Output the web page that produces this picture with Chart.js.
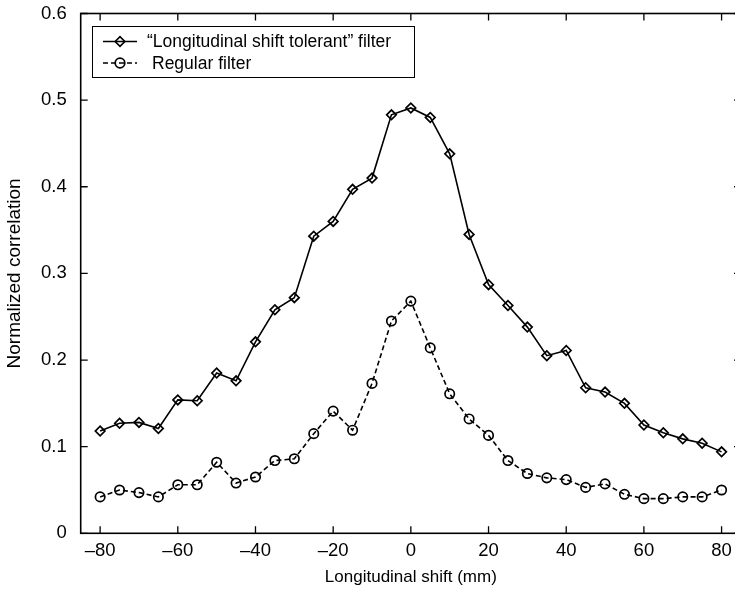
<!DOCTYPE html>
<html>
<head>
<meta charset="utf-8">
<script src="https://cdn.jsdelivr.net/npm/chart.js@4/dist/chart.umd.min.js"></script>
<style>
  html, body { margin: 0; padding: 0; background: #fff; overflow: hidden; }
  #wrap { position: absolute; left: 0; top: 0; width: 760px; height: 599px; }
</style>
</head>
<body>
<div id="wrap"><canvas id="chart" width="760" height="599"></canvas></div>
<script>
const shifts = [-80, -75, -70, -65, -60, -55, -50, -45, -40, -35, -30, -25, -20, -15, -10, -5, 0,
  5, 10, 15, 20, 25, 30, 35, 40, 45, 50, 55, 60, 65, 70, 75, 80];
const tolerant = [0.118, 0.127, 0.128, 0.121, 0.154, 0.153, 0.185, 0.176, 0.221, 0.258, 0.272,
  0.343, 0.360, 0.397, 0.410, 0.483, 0.491, 0.480, 0.438, 0.345, 0.287, 0.263, 0.238, 0.205,
  0.211, 0.168, 0.163, 0.150, 0.125, 0.116, 0.109, 0.104, 0.094];
const regular = [0.042, 0.050, 0.047, 0.042, 0.056, 0.056, 0.082, 0.058, 0.065, 0.084, 0.086,
  0.115, 0.141, 0.119, 0.173, 0.245, 0.268, 0.214, 0.161, 0.132, 0.113, 0.084, 0.069, 0.064,
  0.062, 0.053, 0.057, 0.045, 0.040, 0.040, 0.042, 0.042, 0.050];
const xTicks = [-80, -60, -40, -20, 0, 20, 40, 60, 80];
const yTicks = [0, 0.1, 0.2, 0.3, 0.4, 0.5, 0.6];
const seriesNames = ['\u201CLongitudinal shift tolerant\u201D filter', 'Regular filter'];

const FAMILY = '"Liberation Sans", Arial, Helvetica, sans-serif';
const TICK_FONT = { family: FAMILY, size: 18.5 };
const TITLE_FONT = { family: FAMILY, size: 17 };

const toPoints = (ys) => shifts.map((x, i) => ({ x, y: ys[i] }));

// matlab style box with inward ticks on all four sides, plus the legend
const frame = {
  id: 'frame',
  afterDatasetsDraw(chart) {
    const { ctx, chartArea: a, scales: { x, y } } = chart;
    const len = 7;
    ctx.save();
    ctx.strokeStyle = '#000';
    ctx.lineWidth = 1.6;
    ctx.strokeRect(a.left, a.top, a.right - a.left, a.bottom - a.top);
    ctx.lineWidth = 1.3;
    ctx.beginPath();
    xTicks.forEach((v) => {
      const px = x.getPixelForValue(v);
      ctx.moveTo(px, a.bottom); ctx.lineTo(px, a.bottom - len);
      ctx.moveTo(px, a.top); ctx.lineTo(px, a.top + len);
    });
    yTicks.forEach((v) => {
      const py = y.getPixelForValue(v);
      ctx.moveTo(a.left, py); ctx.lineTo(a.left + len, py);
      ctx.moveTo(a.right, py); ctx.lineTo(a.right - len, py);
    });
    ctx.stroke();

    // legend box
    const bx = 92.5, by = 26.5, bw = 322, bh = 51;
    ctx.fillStyle = '#fff';
    ctx.fillRect(bx, by, bw, bh);
    ctx.lineWidth = 1;
    ctx.strokeRect(bx, by, bw, bh);
    const rows = [
      { y: 41.5, dash: [], style: 'rectRot', tx: 147 },
      { y: 63, dash: [5, 3], style: 'circle', tx: 152 },
    ];
    rows.forEach((r, i) => {
      ctx.lineWidth = 1.6;
      ctx.setLineDash(r.dash);
      ctx.beginPath();
      ctx.moveTo(103, r.y); ctx.lineTo(137, r.y);
      ctx.stroke();
      ctx.setLineDash([]);
      ctx.lineWidth = 1.7;
      ctx.fillStyle = 'rgba(0,0,0,0)';
      Chart.helpers.drawPoint(ctx, { pointStyle: r.style, radius: 4.8, borderWidth: 1.7 }, 120, r.y);
      ctx.fillStyle = '#000';
      ctx.font = `17.5px ${FAMILY}`;
      ctx.textBaseline = 'middle';
      ctx.textAlign = 'left';
      ctx.fillText(seriesNames[i], r.tx, r.y + 1);
    });
    ctx.restore();
  },
};

const fmtTick = (v) => (v < 0 ? '\u2013' + Math.abs(v) : String(v));

new Chart(document.getElementById('chart'), {
  type: 'line',
  data: {
    datasets: [
      {
        label: seriesNames[0],
        data: toPoints(tolerant),
        borderColor: '#000',
        borderWidth: 1.6,
        pointStyle: 'rectRot',
        pointRadius: 4.8,
        pointBorderWidth: 1.7,
        pointBorderColor: '#000',
        pointBackgroundColor: 'rgba(0,0,0,0)',
        tension: 0,
        fill: false,
      },
      {
        label: seriesNames[1],
        data: toPoints(regular),
        borderColor: '#000',
        borderWidth: 1.6,
        borderDash: [5, 3],
        pointStyle: 'circle',
        pointRadius: 4.7,
        pointBorderWidth: 1.7,
        pointBorderColor: '#000',
        pointBackgroundColor: 'rgba(0,0,0,0)',
        tension: 0,
        fill: false,
      },
    ],
  },
  options: {
    responsive: false,
    animation: false,
    layout: { padding: { top: 13.5, right: 19, bottom: 0, left: 0 } },
    plugins: { legend: { display: false }, tooltip: { enabled: false } },
    scales: {
      x: {
        type: 'linear',
        min: -85,
        max: 85,
        afterBuildTicks: (s) => { s.ticks = xTicks.map((v) => ({ value: v })); },
        afterFit: (s) => { s.height = 65.7; },
        grid: { display: false, drawTicks: false },
        border: { display: false },
        ticks: { color: '#000', font: TICK_FONT, padding: 7, maxRotation: 0, callback: fmtTick },
        title: { display: true, text: 'Longitudinal shift (mm)', color: '#000', font: TITLE_FONT, padding: { top: 0, bottom: 11.5 } },
      },
      y: {
        min: 0,
        max: 0.6,
        afterBuildTicks: (s) => { s.ticks = yTicks.map((v) => ({ value: v })); },
        // fixed width, and no extra room above the box for the top label
        afterFit: (s) => { s.width = 80.7; s.paddingTop = 0; s.paddingBottom = 0; },
        grid: { display: false, drawTicks: false },
        border: { display: false },
        ticks: { color: '#000', font: TICK_FONT, padding: 14, callback: (v) => String(Math.round(v * 10) / 10) },
        title: { display: true, text: 'Normalized correlation', color: '#000', font: { family: FAMILY, size: 19 }, padding: { top: 3.5, bottom: 0 } },
      },
    },
  },
  plugins: [frame],
});
</script>
</body>
</html>
